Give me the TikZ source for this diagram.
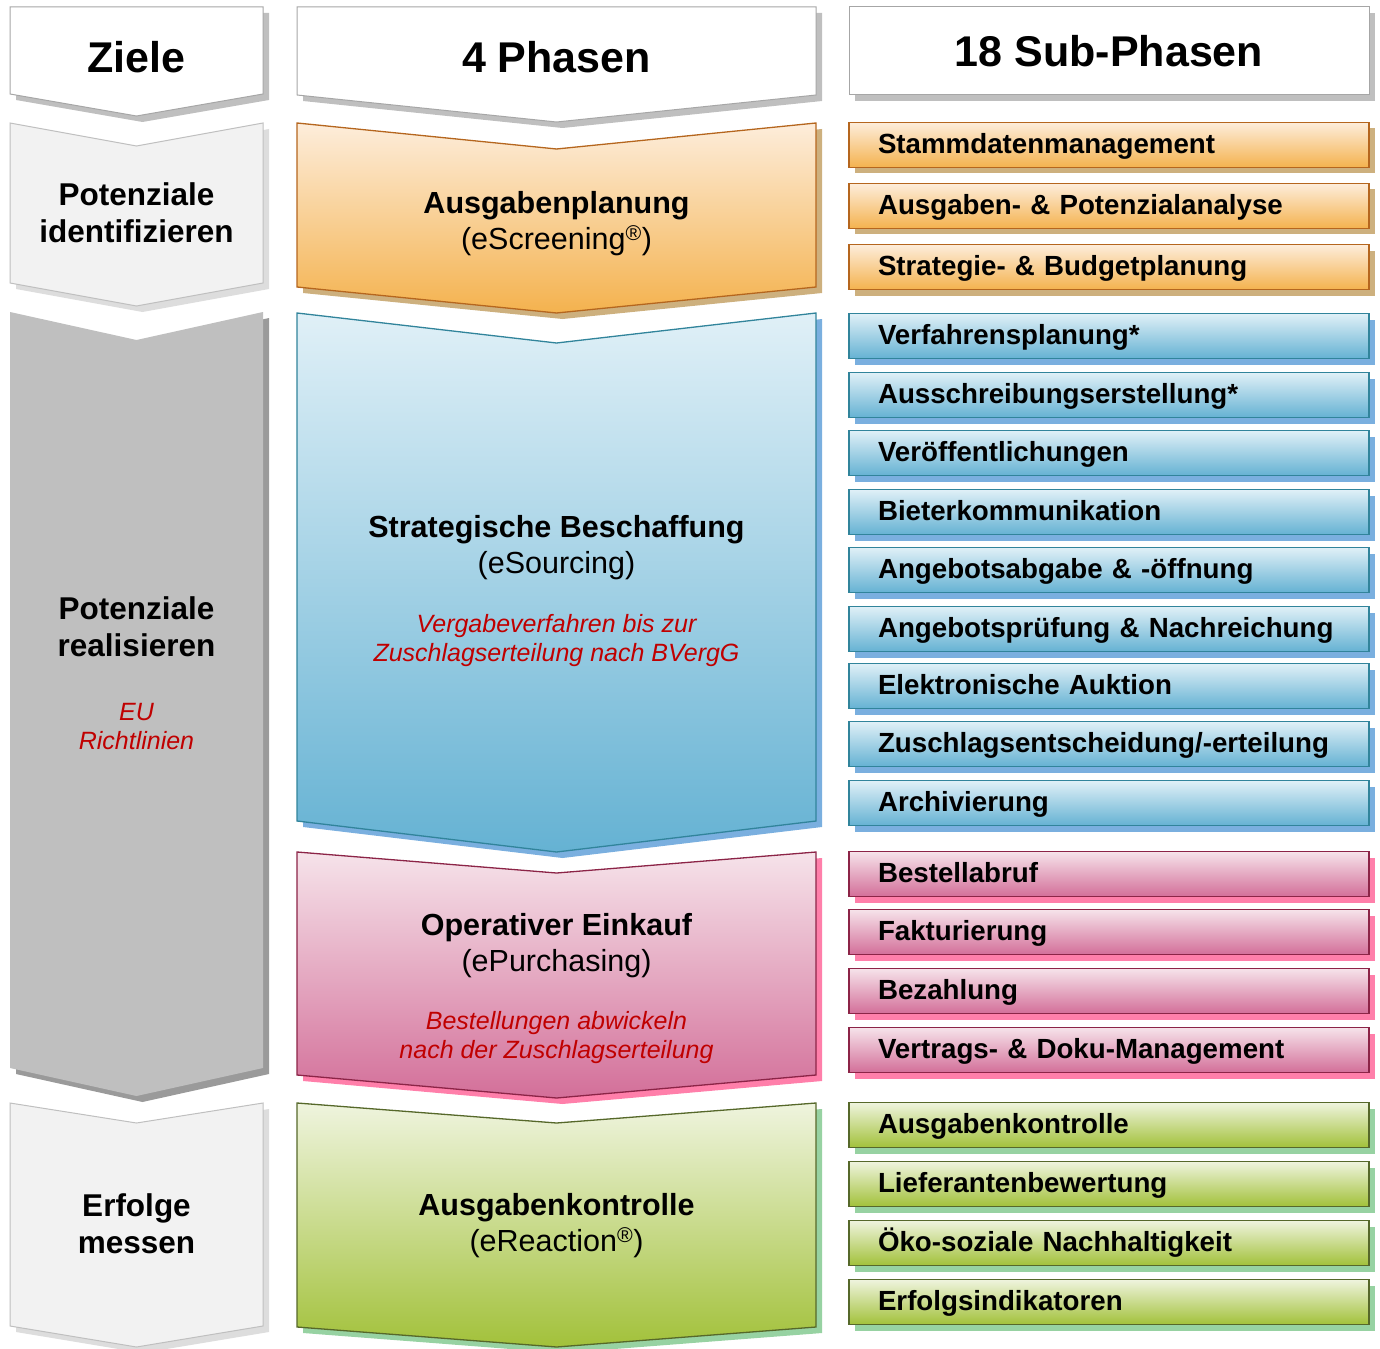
\documentclass[tikz,border=0pt]{standalone}
\usepackage{fontspec}
\setmainfont{Liberation Sans}
\usepackage{tikz}
\usepackage{xcolor}
\usetikzlibrary{shadows}

\definecolor{rahmengrau}{HTML}{A6A6A6}
\definecolor{schattengrau}{HTML}{BFBFBF}
\definecolor{hellgrau}{HTML}{F2F2F2}
\definecolor{zielschatten}{HTML}{DDDDDD}
\definecolor{mittelgrau}{HTML}{BFBFBF}
\definecolor{dunkelgrau}{HTML}{9A9A9A}
\definecolor{orangehell}{HTML}{FDEDDB}
\definecolor{orangevoll}{HTML}{F4B24E}
\definecolor{orangerand}{HTML}{B5661E}
\definecolor{orangeschatten}{HTML}{CDB07E}
\definecolor{blauhell}{HTML}{E0F0F7}
\definecolor{blauvoll}{HTML}{65B2D3}
\definecolor{blaurand}{HTML}{31849B}
\definecolor{blauschatten}{HTML}{7AAFDF}
\definecolor{rosahell}{HTML}{F6E3EA}
\definecolor{rosavoll}{HTML}{D36F99}
\definecolor{rosarand}{HTML}{8C2447}
\definecolor{rosaschatten}{HTML}{FF7FAA}
\definecolor{gruenhell}{HTML}{EFF4DE}
\definecolor{gruenvoll}{HTML}{A2C13A}
\definecolor{gruenrand}{HTML}{56682A}
\definecolor{gruenschatten}{HTML}{97D2A2}
\definecolor{hinweisrot}{HTML}{C00000}

\newcommand{\kopfschrift}{\fontsize{43}{50}\selectfont\bfseries}
\newcommand{\zielschrift}{\fontsize{31.5}{37}\selectfont\bfseries}
\newcommand{\phasenschrift}{\fontsize{30.5}{36}\selectfont}
\newcommand{\hinweisschrift}{\fontsize{25}{29}\selectfont\itshape}
\newcommand{\subschrift}{\fontsize{27.7}{32}\selectfont\bfseries}

\tikzset{
  schatten/.style={general shadow={fill=#1, shadow xshift=6pt, shadow yshift=-6pt}},
  kopf/.style={fill=white, draw=rahmengrau, line width=1pt, schatten=schattengrau},
  ziel/.style={fill=hellgrau, draw=schattengrau, line width=1pt, schatten=zielschatten},
  phase/.style={top color=#1hell, bottom color=#1voll, draw=#1rand, line width=1.3pt, schatten=#1schatten},
  subphase/.style={phase=#1, rectangle, minimum width=520pt, minimum height=45pt,
    inner xsep=29pt, text width=462pt, align=left, text height=21pt, text depth=4pt, font=\subschrift},
  hinweis/.style={text=hinweisrot, font=\hinweisschrift, align=center}
}

\begin{document}
\begin{tikzpicture}[x=1pt, y=-1pt]
  \useasboundingbox (0,0) rectangle (1380,1348);

  % Spalte Ziele
  \path[kopf] (10,7) -- (263,7) -- (263,94) -- (136.5,116) -- (10,94) -- cycle;
  \node[font=\kopfschrift] (ziele) at (136.5,57) {Ziele};
  \path[ziel] (10,123) -- (136.5,146) -- (263,123) -- (263,283) -- (136.5,306) -- (10,283) -- cycle;
  \node[font=\zielschrift, align=center] (identifizieren) at (136.5,213) {Potenziale\\identifizieren};
  \path[fill=mittelgrau, schatten=dunkelgrau] (10,312) -- (136.5,340) -- (263,312) -- (263,1068) -- (136.5,1096) -- (10,1068) -- cycle;
  \node[font=\zielschrift, align=center] (realisieren) at (136.5,627) {Potenziale\\realisieren};
  \node[hinweis] (richtlinien) at (136.5,727) {EU\\Richtlinien};
  \path[ziel] (10,1103) -- (136.5,1123) -- (263,1103) -- (263,1326) -- (136.5,1347) -- (10,1326) -- cycle;
  \node[font=\zielschrift, align=center] (messen) at (136.5,1224) {Erfolge\\messen};

  % Spalte 4 Phasen
  \path[kopf] (297,7) -- (816,7) -- (816,95) -- (556.5,122) -- (297,95) -- cycle;
  \node[font=\kopfschrift] (phasen) at (556.5,57) {4 Phasen};
  \path[phase=orange] (297,123) -- (556.5,149) -- (816,123) -- (816,287) -- (556.5,313) -- (297,287) -- cycle;
  \node[font=\phasenschrift, align=center] (planung) at (556.5,224) {\textbf{Ausgabenplanung}\\(eScreening\textsuperscript{®})};
  \path[phase=blau] (297,313) -- (556.5,343) -- (816,313) -- (816,821) -- (556.5,852) -- (297,821) -- cycle;
  \node[font=\phasenschrift, align=center] (sourcing) at (556.5,548) {\textbf{Strategische Beschaffung}\\(eSourcing)};
  \node[hinweis] (vergabe) at (556.5,641) {Vergabeverfahren bis zur\\Zuschlagserteilung nach BVergG};
  \path[phase=rosa] (297,852) -- (556.5,873) -- (816,852) -- (816,1075) -- (556.5,1098) -- (297,1075) -- cycle;
  \node[font=\phasenschrift, align=center] (purchasing) at (556.5,946) {\textbf{Operativer Einkauf}\\(ePurchasing)};
  \node[hinweis] (bestellung) at (556.5,1038) {Bestellungen abwickeln\\nach der Zuschlagserteilung};
  \path[phase=gruen] (297,1103) -- (556.5,1123) -- (816,1103) -- (816,1327) -- (556.5,1347) -- (297,1327) -- cycle;
  \node[font=\phasenschrift, align=center] (reaction) at (556.5,1226) {\textbf{Ausgabenkontrolle}\\(eReaction\textsuperscript{®})};

  % Spalte 18 Sub-Phasen
  \node[kopf, rectangle, minimum width=520pt, minimum height=88pt, font=\kopfschrift] (subkopf) at (1109,51) {18 Sub-Phasen};

  \node[subphase=orange] (s1) at (1109,145) {Stammdatenmanagement};
  \node[subphase=orange] (s2) at (1109,206) {Ausgaben- \& Potenzialanalyse};
  \node[subphase=orange] (s3) at (1109,267) {Strategie- \& Budgetplanung};

  \node[subphase=blau] (s4) at (1109,336) {Verfahrensplanung*};
  \node[subphase=blau] (s5) at (1109,395) {Ausschreibungserstellung*};
  \node[subphase=blau] (s6) at (1109,453) {Veröffentlichungen};
  \node[subphase=blau] (s7) at (1109,512) {Bieterkommunikation};
  \node[subphase=blau] (s8) at (1109,570) {Angebotsabgabe \& -öffnung};
  \node[subphase=blau] (s9) at (1109,629) {Angebotsprüfung \& Nachreichung};
  \node[subphase=blau] (s10) at (1109,686) {Elektronische Auktion};
  \node[subphase=blau] (s11) at (1109,744) {Zuschlagsentscheidung/-erteilung};
  \node[subphase=blau] (s12) at (1109,803) {Archivierung};

  \node[subphase=rosa] (s13) at (1109,874) {Bestellabruf};
  \node[subphase=rosa] (s14) at (1109,932) {Fakturierung};
  \node[subphase=rosa] (s15) at (1109,991) {Bezahlung};
  \node[subphase=rosa] (s16) at (1109,1050) {Vertrags- \& Doku-Management};

  \node[subphase=gruen] (s17) at (1109,1125) {Ausgabenkontrolle};
  \node[subphase=gruen] (s18) at (1109,1184) {Lieferantenbewertung};
  \node[subphase=gruen] (s19) at (1109,1243) {Öko-soziale Nachhaltigkeit};
  \node[subphase=gruen] (s20) at (1109,1302) {Erfolgsindikatoren};
\end{tikzpicture}
\end{document}
